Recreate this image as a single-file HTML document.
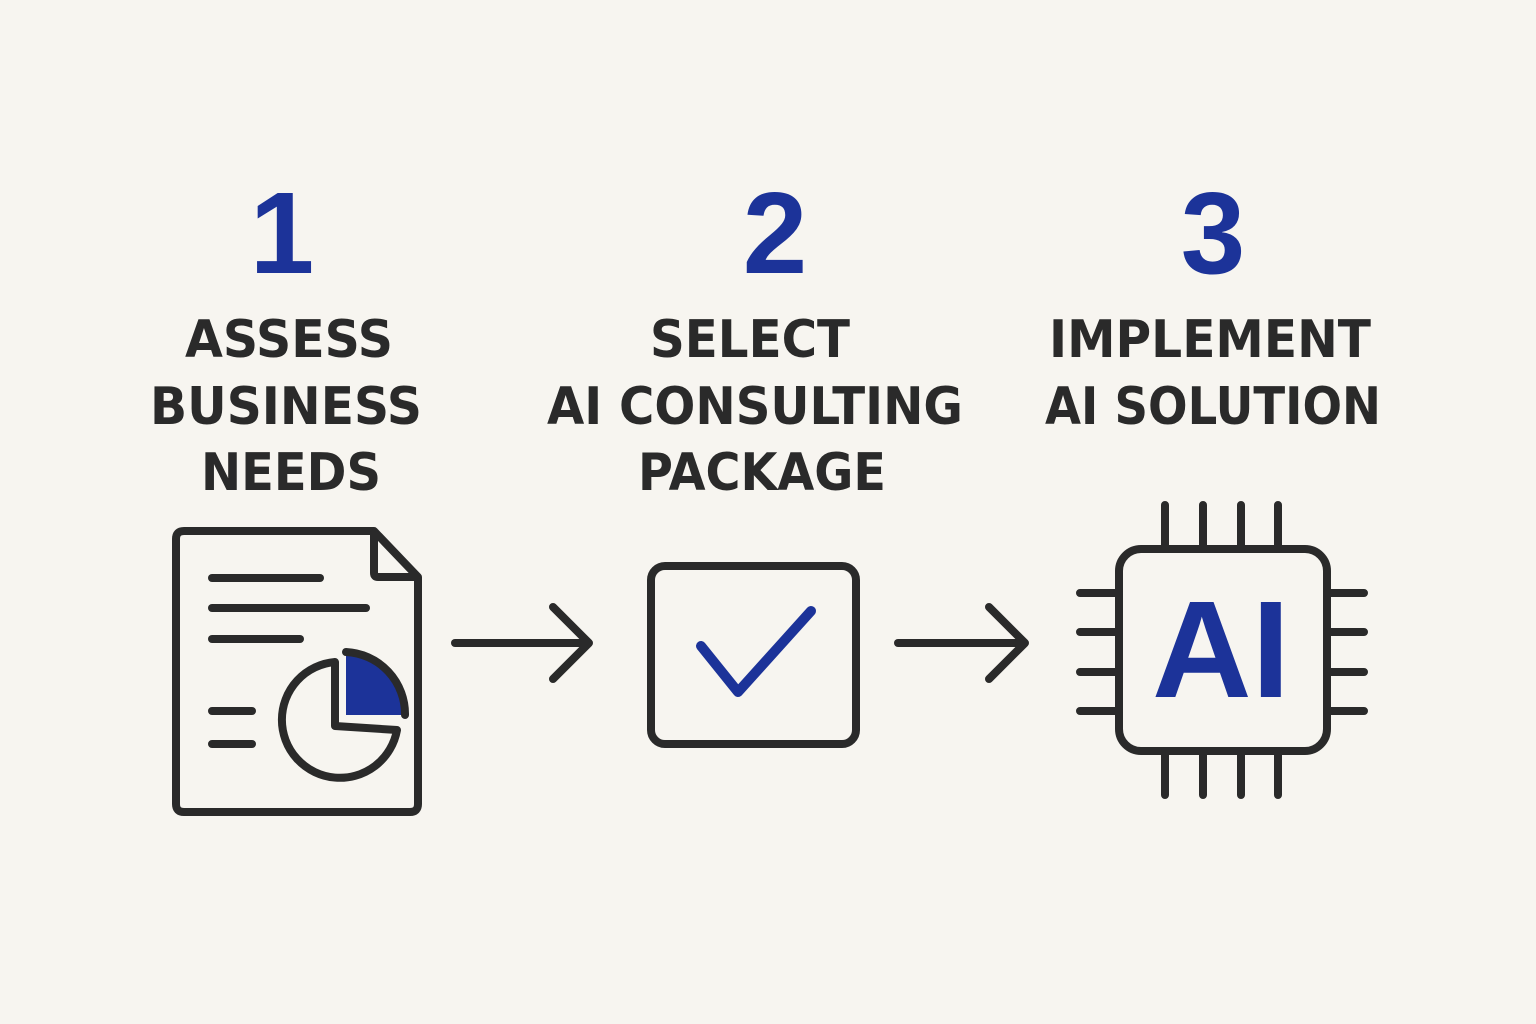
<!DOCTYPE html>
<html><head><meta charset="utf-8"><style>
html,body{margin:0;padding:0;background:#f7f5f0;}
svg{display:block}
</style></head><body>
<svg width="1536" height="1024" viewBox="0 0 1536 1024" xmlns="http://www.w3.org/2000/svg">
<rect width="1536" height="1024" fill="#f7f5f0"/>
<g font-family="Liberation Sans, sans-serif" font-weight="bold" fill="#1c3399" text-anchor="middle" font-size="116">
<text x="282" y="273">1</text>
<text x="775" y="273">2</text>
<text x="1213" y="273">3</text>
</g>
<g font-family="DejaVu Sans, Liberation Sans, sans-serif" font-weight="bold" fill="#2a2a2a" font-size="52" text-anchor="middle" lengthAdjust="spacingAndGlyphs">
<text x="289" y="357" textLength="208" lengthAdjust="spacingAndGlyphs">ASSESS</text>
<text x="286" y="424" textLength="272" lengthAdjust="spacingAndGlyphs">BUSINESS</text>
<text x="291" y="490" textLength="180" lengthAdjust="spacingAndGlyphs">NEEDS</text>
<text x="750" y="357" textLength="200" lengthAdjust="spacingAndGlyphs">SELECT</text>
<text x="755" y="424" textLength="416" lengthAdjust="spacingAndGlyphs">AI CONSULTING</text>
<text x="762" y="490" textLength="248" lengthAdjust="spacingAndGlyphs">PACKAGE</text>
<text x="1210" y="357" textLength="322" lengthAdjust="spacingAndGlyphs">IMPLEMENT</text>
<text x="1213" y="424" textLength="336" lengthAdjust="spacingAndGlyphs">AI SOLUTION</text>
</g>
<g fill="none" stroke="#2a2a2a" stroke-width="8" stroke-linecap="round" stroke-linejoin="round">
<path d="M184,531 L374,531 L418,577 L418,804 Q418,812 410,812 L184,812 Q176,812 176,804 L176,539 Q176,531 184,531 Z"/>
<path d="M374,533 L374,573 Q374,577 378,577 L416,577"/>
<line x1="212" y1="578" x2="320" y2="578"/>
<line x1="212" y1="608" x2="366" y2="608"/>
<line x1="212" y1="639" x2="300" y2="639"/>
<line x1="212" y1="711" x2="252" y2="711"/>
<line x1="212" y1="744" x2="252" y2="744"/>
<path d="M335,662 L335,726 L397,730 A58 58 0 1 1 335,662 Z"/>
<line x1="455" y1="643" x2="588" y2="643"/>
<path d="M553,607 L589,643 L553,679"/>
<line x1="898" y1="643" x2="1024" y2="643"/>
<path d="M989,607 L1025,643 L989,679"/>
<rect x="651" y="566" width="205" height="178" rx="14"/>
<rect x="1119" y="549" width="208" height="202" rx="22"/>
<path d="M1165,505V549 M1203,505V549 M1241,505V549 M1278,505V549 M1165,751V795 M1203,751V795 M1241,751V795 M1278,751V795 M1080,593H1119 M1080,632H1119 M1080,672H1119 M1080,711H1119 M1327,593H1364 M1327,632H1364 M1327,672H1364 M1327,711H1364"/>
</g>
<path d="M346,715 L346,652 A62 62 0 0 1 405,715 Z" fill="#1c3399"/>
<path d="M346,652 A62 62 0 0 1 405,715" fill="none" stroke="#2a2a2a" stroke-width="8" stroke-linecap="round"/>
<path d="M701,646 L738,692 L811,611" fill="none" stroke="#1c3399" stroke-width="10" stroke-linecap="round" stroke-linejoin="round"/>
<text x="1221" y="697" font-family="Liberation Sans, sans-serif" font-weight="bold" font-size="138" fill="#1c3399" text-anchor="middle">AI</text>
</svg>
</body></html>
